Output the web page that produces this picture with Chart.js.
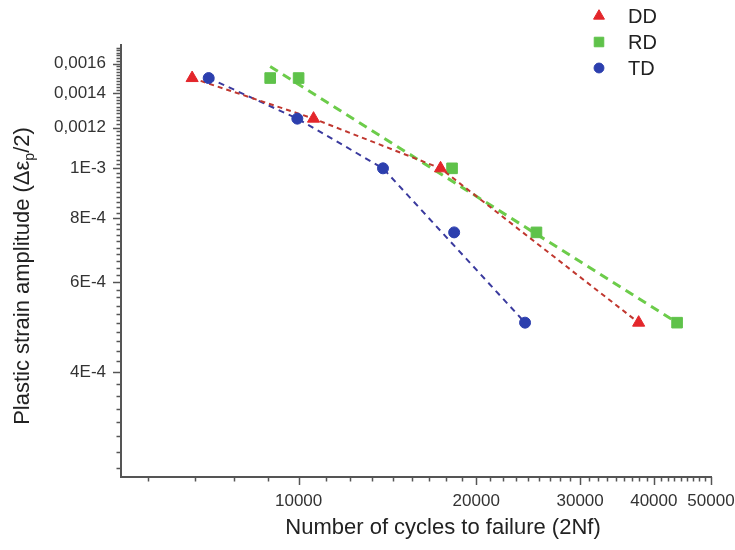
<!DOCTYPE html>
<html>
<head>
<meta charset="utf-8">
<script src="https://cdn.jsdelivr.net/npm/chart.js@4.4.0/dist/chart.umd.min.js"></script>
<style>
  html, body { margin: 0; padding: 0; background: #fff; }
</style>
</head>
<body>
<canvas id="chart" width="735" height="550"></canvas>
<script>
// values (log-log axes)
const ddCycles = [6600, 10600, 17400, 37700];
const ddStrain = [0.0015, 0.00125, 0.001, 0.0005];
const rdCycles = [8950, 10000, 18200, 25300, 43800];
const rdStrain = [0.0015, 0.0015, 0.001, 0.00075, 0.0005];
const tdCycles = [7040, 9950, 13900, 18350, 24200];
const tdStrain = [0.0015, 0.00125, 0.001, 0.00075, 0.0005];

// dashed trend lines as they appear in the reference
const rdFitCycles = [8950, 43800];
const rdFitStrain = [0.00158, 0.0005];
const tdFitCycles = [7040, 9950, 13900, 24200];
const tdFitStrain = [0.0015, 0.00125, 0.001, 0.0005];

// axis ticks
const xTickValues = [10000, 20000, 30000, 40000, 50000];
const yTickValues = [0.0004, 0.0006, 0.0008, 0.001, 0.0012, 0.0014, 0.0016];
const yTickLabels = ["4E-4", "6E-4", "8E-4", "1E-3", "0,0012", "0,0014", "0,0016"];

const FONT = "'Liberation Sans', Arial, sans-serif";

function points(xs, ys) {
  return xs.map((x, i) => ({ x: x, y: ys[i] }));
}

// origin style ticks: linear major step, 8 minors on x, 9 on y
function xTicks(scale) {
  const t = [];
  for (let k = 0; k < 5; k++) {
    for (let j = 1; j <= 9; j++) {
      const v = k * 10000 + j * 10000 / 9;
      if (v >= scale.min && v <= scale.max + 1) t.push({ value: v, major: j === 9 });
    }
  }
  scale.ticks = t;
}
function yTicks(scale) {
  const t = [];
  for (let i = 1; i <= 100; i++) {
    const v = i * 2e-5;
    if (v >= scale.min && v <= scale.max) t.push({ value: v, major: i % 10 === 0 });
  }
  scale.ticks = t;
}

const tickMarks = {
  id: "tickMarks",
  afterDraw(chart) {
    const ctx = chart.ctx;
    const xs = chart.scales.x, ys = chart.scales.y;
    ctx.save();
    ctx.strokeStyle = "#555";
    ctx.lineWidth = 1.5;
    xs.ticks.forEach(t => {
      const px = Math.round(xs.getPixelForValue(t.value)) + 0.5;
      ctx.beginPath();
      ctx.moveTo(px, xs.top);
      ctx.lineTo(px, xs.top + (t.major ? 8 : 4.5));
      ctx.stroke();
    });
    ys.ticks.forEach(t => {
      const py = Math.round(ys.getPixelForValue(t.value)) + 0.5;
      ctx.beginPath();
      ctx.moveTo(ys.right, py);
      ctx.lineTo(ys.right - (t.major ? 8 : 4.5), py);
      ctx.stroke();
    });

    // axis titles
    ctx.fillStyle = "#222";
    ctx.font = "22px " + FONT;
    ctx.textAlign = "center";
    ctx.textBaseline = "alphabetic";
    ctx.fillText("Number of cycles to failure (2Nf)", 443, 534);

    const a = "Plastic strain amplitude (\u0394\u03b5", b = "p", c = "/2)";
    ctx.font = "22px " + FONT;
    const wa = ctx.measureText(a).width, wc = ctx.measureText(c).width;
    ctx.font = "14px " + FONT;
    const wb = ctx.measureText(b).width;
    const total = wa + wb + wc;
    ctx.translate(29, 276);
    ctx.rotate(-Math.PI / 2);
    ctx.textAlign = "left";
    let x0 = -total / 2;
    ctx.font = "22px " + FONT;
    ctx.fillText(a, x0, 0);
    ctx.font = "14px " + FONT;
    ctx.fillText(b, x0 + wa, 5);
    ctx.font = "22px " + FONT;
    ctx.fillText(c, x0 + wa + wb, 0);
    ctx.restore();

    // legend
    const items = chart.data.datasets.filter(d => d.legend);
    ctx.save();
    items.forEach((d, i) => {
      const y = 16 + i * 26;
      ctx.fillStyle = d.pointBackgroundColor;
      ctx.strokeStyle = d.pointBorderColor;
      Chart.helpers.drawPoint(ctx, { pointStyle: d.pointStyle, radius: d.pointRadius * 0.9, borderWidth: 1, rotation: 0 }, 599, y);
      ctx.fillStyle = "#222";
      ctx.font = "20px " + FONT;
      ctx.textAlign = "left";
      ctx.textBaseline = "middle";
      ctx.fillText(d.label, 628, y + 1);
    });
    ctx.restore();
  }
};

new Chart(document.getElementById("chart"), {
  type: "scatter",
  data: {
    datasets: [
      {
        label: "DD", legend: true, data: points(ddCycles, ddStrain), order: 1,
        showLine: true, borderColor: "#c0372f", borderWidth: 2, borderDash: [5, 4],
        pointStyle: "triangle", pointRadius: 7, pointHoverRadius: 7,
        pointBackgroundColor: "#e3262b", pointBorderColor: "#e3262b", pointBorderWidth: 1
      },
      {
        label: "RD", legend: true, data: points(rdCycles, rdStrain), order: 2,
        pointStyle: "rect", pointRadius: 7.5, pointHoverRadius: 7.5,
        pointBackgroundColor: "#5fc24a", pointBorderColor: "#5fc24a", pointBorderWidth: 1
      },
      {
        label: "TD", legend: true, data: points(tdCycles, tdStrain), order: 0,
        pointStyle: "circle", pointRadius: 5.5, pointHoverRadius: 5.5,
        pointBackgroundColor: "#2c3fae", pointBorderColor: "#2c3fae", pointBorderWidth: 1
      },
      {
        label: "", data: points(rdFitCycles, rdFitStrain), order: 3,
        showLine: true, borderColor: "#6ccc4a", borderWidth: 3, borderDash: [9, 6], pointRadius: 0
      },
      {
        label: "", data: points(tdFitCycles, tdFitStrain), order: 4,
        showLine: true, borderColor: "#3a3a9e", borderWidth: 2, borderDash: [6, 5], pointRadius: 0
      }
    ]
  },
  options: {
    responsive: false,
    animation: false,
    devicePixelRatio: 1,
    layout: { padding: { top: 45, right: 24, left: 0, bottom: 0 } },
    plugins: { legend: { display: false }, tooltip: { enabled: false } },
    scales: {
      x: {
        type: "logarithmic", position: "bottom", min: 5000, max: 50000,
        grid: { display: false, drawTicks: false },
        border: { color: "#555", width: 2 },
        afterBuildTicks: xTicks,
        afterFit(s) { s.height = 73; s.paddingLeft = 0; s.paddingRight = 0; },
        ticks: {
          autoSkip: false, maxRotation: 0, padding: 14, color: "#333",
          font: { family: FONT, size: 17 },
          callback: v => xTickValues.includes(v) ? String(v) : ""
        }
      },
      y: {
        type: "logarithmic", min: 0.00025, max: 0.00174,
        grid: { display: false, drawTicks: false },
        border: { color: "#555", width: 2 },
        afterBuildTicks: yTicks,
        afterFit(s) { s.width = 121; s.paddingTop = 0; s.paddingBottom = 0; },
        ticks: {
          autoSkip: false, padding: 15, color: "#333",
          font: { family: FONT, size: 17 },
          callback: v => {
            const i = yTickValues.findIndex(t => Math.abs(t - v) < 1e-9);
            return i >= 0 ? yTickLabels[i] : "";
          }
        }
      }
    }
  },
  plugins: [tickMarks]
});
</script>
</body>
</html>
